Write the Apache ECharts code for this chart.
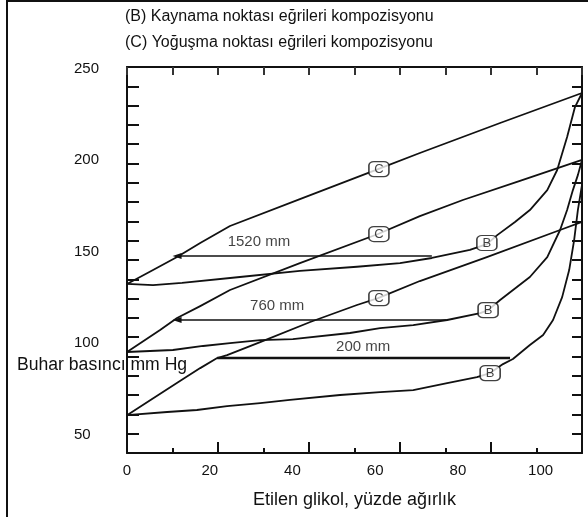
<!DOCTYPE html>
<html><head><meta charset="utf-8">
<script src="https://cdn.jsdelivr.net/npm/echarts@6/dist/echarts.min.js"></script>
<style>html,body{margin:0;padding:0;background:#fff}#c{width:588px;height:517px}</style>
</head><body><div id="c"></div>
<script>
// Tick labels
const xTickLabels = [0, 20, 40, 60, 80, 100];
const yTickLabels = [50, 100, 150, 200, 250];

// Curves (x: wt % ethylene glycol, y: value on vertical axis)
const c1520X = [0, 6.3, 12.1, 17.7, 24.9, 41.8, 60.7, 70.8, 90.2, 110];
const c1520Y = [132.4, 140.0, 147.1, 154.8, 164.1, 178.8, 195.2, 204.0, 220.4, 236.8];
const b1520X = [0, 6.3, 13.3, 27.3, 41.8, 55.6, 66.0, 73.7, 82.9, 87.0, 89.5, 93.8, 97.4, 101.6, 104.0, 106.4, 108.3, 110];
const b1520Y = [132.4, 131.8, 133.0, 136.2, 139.5, 141.8, 143.8, 146.6, 151.0, 154.2, 159.1, 166.3, 172.8, 183.7, 194.7, 212.7, 229.1, 236.8];
const c760X = [0, 8.0, 12.1, 17.7, 24.9, 41.8, 60.7, 70.8, 81.2, 95.0, 110];
const c760Y = [95.2, 107.2, 113.8, 120.3, 129.1, 143.8, 159.7, 169.5, 178.3, 188.7, 200.2];
const b760X = [0, 11.1, 18.4, 24.9, 32.2, 40.1, 53.9, 61.2, 69.2, 77.4, 85.4, 87.3, 90.2, 97.4, 101.6, 104.7, 106.4, 107.8, 109.0, 110];
const b760Y = [95.2, 96.3, 98.5, 100.1, 101.7, 102.3, 105.6, 108.3, 109.9, 112.7, 116.5, 118.1, 123.6, 136.2, 147.1, 161.9, 172.8, 183.7, 191.9, 200.2];
const c200X = [0, 5.6, 12.8, 17.7, 21.8, 24.2, 32.2, 44.3, 55.6, 60.7, 70.8, 87.0, 104.7, 110];
const c200Y = [60.7, 68.9, 79.3, 86.4, 91.9, 93.5, 100.6, 111.6, 120.9, 124.7, 134.0, 147.1, 161.9, 166.3];
const b200X = [0, 9.7, 16.9, 24.2, 32.2, 39.4, 51.5, 61.2, 69.2, 77.4, 84.6, 87.8, 90.9, 93.3, 97.4, 100.6, 103.0, 105.2, 106.9, 108.1, 109.0, 110];
const b200Y = [60.7, 62.4, 63.5, 65.6, 67.3, 69.0, 71.7, 73.3, 74.4, 78.2, 81.5, 83.7, 88.6, 91.4, 99.0, 104.5, 112.7, 125.2, 140.0, 156.4, 172.8, 186.5];

// Tie lines (constant pressure)
const tieNames = ['1520 mm', '760 mm', '200 mm'];
const tieY = [147.7, 112.7, 91.9];
const tieX0 = [12.1, 12.1, 21.8];
const tieX1 = [73.7, 77.4, 92.6];
const tieLabelX = [31.9, 36.3, 57.1];
const tieLabelY = [155.3, 120.3, 97.9];

// Curve tags
const tagText = ['C', 'C', 'C', 'B', 'B', 'B'];
const tagX = [60.9, 60.9, 60.9, 87.0, 87.3, 87.8];
const tagY = [195.2, 159.7, 124.7, 154.8, 118.1, 83.7];

const FONT = '"Liberation Sans", Arial, sans-serif';
const INK = '#111';

function curve(xs, ys) {
  return {
    type: 'line', xAxisIndex: 0, yAxisIndex: 0,
    data: xs.map((x, i) => [x, ys[i]]),
    symbol: 'none', smooth: false,
    lineStyle: { color: INK, width: 1.8, join: 'round' }, z: 3, silent: true
  };
}

const series = [
  curve(c1520X, c1520Y), curve(b1520X, b1520Y),
  curve(c760X, c760Y), curve(b760X, b760Y),
  curve(c200X, c200Y), curve(b200X, b200Y)
];

tieNames.forEach((n, i) => {
  const arrow = i < 2;
  series.push({
    type: 'line', xAxisIndex: 0, yAxisIndex: 0,
    symbol: 'circle', symbolSize: 0, showSymbol: true,
    data: [
      arrow ? { value: [tieX0[i], tieY[i]], symbol: 'triangle', symbolSize: [6, 9], symbolRotate: 90, itemStyle: { color: INK } } : [tieX0[i], tieY[i]],
      [tieX1[i], tieY[i]]
    ],
    lineStyle: { color: INK, width: i === 2 ? 2.6 : 1.3 }, z: 3, silent: true
  });
});

series.push({
  type: 'scatter', xAxisIndex: 0, yAxisIndex: 0, symbolSize: 0,
  data: tieNames.map((n, i) => [tieLabelX[i], tieLabelY[i], n]),
  label: { show: true, position: 'inside', formatter: p => p.value[2], fontSize: 15, fontFamily: FONT, color: INK },
  z: 4, silent: true
});

series.push({
  type: 'scatter', xAxisIndex: 0, yAxisIndex: 0,
  symbol: 'roundRect', symbolSize: [20, 15],
  data: tagText.map((t, i) => [tagX[i], tagY[i], t]),
  itemStyle: { color: '#fff', borderColor: INK, borderWidth: 1.4 },
  label: { show: true, position: 'inside', formatter: p => p.value[2], fontSize: 13, fontFamily: FONT, color: INK },
  z: 5, silent: true
});

const axisLine = { show: true, onZero: false, lineStyle: { color: INK, width: 2 } };

const option = {
  animation: false,
  backgroundColor: '#fff',
  grid: { left: 127, right: 6, top: 67, bottom: 64 },
  xAxis: [
    { type: 'value', position: 'bottom', min: 0, max: 110,
      axisLine: axisLine, axisTick: { show: false }, splitLine: { show: false },
      axisLabel: { customValues: xTickLabels, fontSize: 15, fontFamily: FONT, color: INK, margin: 10 },
      name: 'Etilen glikol, yüzde ağırlık', nameLocation: 'middle', nameGap: 38,
      nameTextStyle: { fontSize: 18, fontFamily: FONT, color: INK } },
    { type: 'value', position: 'bottom', min: 0, max: 110, interval: 22,
      axisLine: { show: false }, splitLine: { show: false }, axisLabel: { show: false },
      axisTick: { show: true, inside: true, length: 11, lineStyle: { color: INK, width: 2 } },
      minorTick: { show: true, splitNumber: 2, length: 5, lineStyle: { color: INK, width: 2 } } },
    { type: 'value', position: 'top', min: 0, max: 110, interval: 11,
      axisLine: axisLine, splitLine: { show: false }, axisLabel: { show: false },
      axisTick: { show: true, inside: true, length: 8, lineStyle: { color: '#333', width: 2 } } }
  ],
  yAxis: [
    { type: 'value', position: 'left', min: 40, max: 251,
      axisLine: axisLine, axisTick: { show: false }, splitLine: { show: false },
      axisLabel: { customValues: yTickLabels, align: 'left', margin: 53, fontSize: 15, fontFamily: FONT, color: INK } },
    { type: 'value', position: 'left', min: 0, max: 20, interval: 1,
      axisLine: { show: false }, splitLine: { show: false }, axisLabel: { show: false },
      axisTick: { show: true, inside: true, length: 12, lineStyle: { color: INK, width: 2 } } },
    { type: 'value', position: 'right', min: 0, max: 20, interval: 1,
      axisLine: axisLine, splitLine: { show: false }, axisLabel: { show: false },
      axisTick: { show: true, inside: true, length: 10, lineStyle: { color: INK, width: 2 } } }
  ],
  graphic: [
    { type: 'line', shape: { x1: 7, y1: 0, x2: 7, y2: 517 }, style: { stroke: INK, lineWidth: 2 }, silent: true },
    { type: 'line', shape: { x1: 7, y1: 1, x2: 588, y2: 1 }, style: { stroke: INK, lineWidth: 2 }, silent: true },
    { type: 'text', left: 125, top: 9, style: { text: '(B) Kaynama noktası eğrileri kompozisyonu', font: '16px ' + FONT, fill: INK }, silent: true },
    { type: 'text', left: 125, top: 35, style: { text: '(C) Yoğuşma noktası eğrileri kompozisyonu', font: '16px ' + FONT, fill: INK }, silent: true },
    { type: 'text', left: 17, top: 356, z: 10, style: { text: 'Buhar basıncı mm Hg', font: '17.6px ' + FONT, fill: INK }, silent: true }
  ],
  series: series
};

const chart = echarts.init(document.getElementById('c'), null, { renderer: 'canvas' });
chart.setOption(option);
</script></body></html>
